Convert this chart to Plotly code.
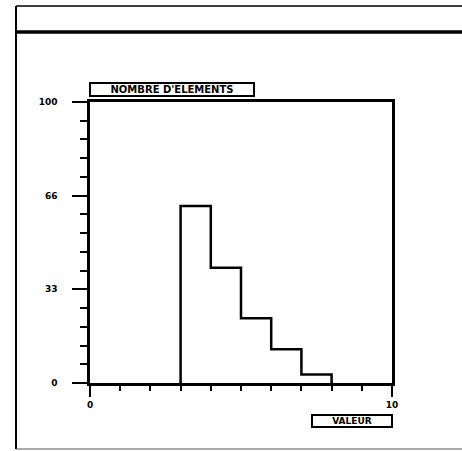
import plotly.graph_objects as go

# Data
bin_edges = [3, 4, 5, 6, 7, 8]
counts = [63, 41, 23, 12, 3]
y_tickvals = [0, 100 / 3, 200 / 3, 100]
y_ticktext = ["0", "33", "66", "100"]
x_tickvals = [0, 10]
x_ticktext = ["0", "10"]
y_title = "NOMBRE D'ELEMENTS"
x_title = "VALEUR"

W, H = 462, 451
L, R, T, B = 90, 70, 102, 68
pw, ph = W - L - R, H - T - B


def px(x):
    return (x - L) / pw


def py(y):
    return (H - B - y) / ph


# step outline of the histogram
step_x = [bin_edges[0]] + bin_edges
step_y = [0] + counts + [0]

fig = go.Figure()
fig.add_trace(go.Scatter(
    x=step_x, y=step_y, mode="lines", line_shape="hv",
    line=dict(color="black", width=2.5), showlegend=False, hoverinfo="skip",
))

font = dict(family="DejaVu Sans", size=9, color="black", weight="bold")
font_t = dict(family="DejaVu Sans", size=10, color="black", weight="bold")

fig.update_layout(
    width=W, height=H,
    margin=dict(l=L, r=R, t=T, b=B),
    paper_bgcolor="white", plot_bgcolor="white",
    xaxis=dict(
        range=[0, 10], showgrid=False, zeroline=False,
        showline=True, linecolor="black", linewidth=2.5, mirror=True,
        tickvals=x_tickvals, ticktext=x_ticktext,
        ticks="outside", ticklen=11, tickwidth=2, tickcolor="black",
        minor=dict(dtick=1, tick0=0, ticks="outside", ticklen=5, tickwidth=2, tickcolor="black"),
        tickfont=font,
    ),
    yaxis=dict(
        range=[0, 100], showgrid=False, zeroline=False,
        showline=True, linecolor="black", linewidth=2.5, mirror=True,
        tickvals=y_tickvals, ticktext=y_ticktext,
        ticks="outside", ticklen=15, tickwidth=2, tickcolor="black",
        minor=dict(dtick=100 / 15, tick0=0, ticks="outside", ticklen=7, tickwidth=2, tickcolor="black"),
        tickfont=font, ticklabelstandoff=13,
    ),
    shapes=[
        dict(type="line", xref="paper", yref="paper", x0=px(16), x1=px(462), y0=py(6), y1=py(6),
             line=dict(color="black", width=1.5)),
        dict(type="line", xref="paper", yref="paper", x0=px(16), x1=px(462), y0=py(32), y1=py(32),
             line=dict(color="black", width=3.5)),
        dict(type="line", xref="paper", yref="paper", x0=px(16), x1=px(16), y0=py(6), y1=py(449),
             line=dict(color="black", width=2)),
        dict(type="line", xref="paper", yref="paper", x0=px(16), x1=px(462), y0=py(449), y1=py(449),
             line=dict(color="#555555", width=1)),
    ],
    annotations=[
        dict(text=y_title, xref="paper", yref="paper", x=px(172), y=py(90),
             xanchor="center", yanchor="middle",
             showarrow=False, font=font_t, bgcolor="white", bordercolor="black",
             borderwidth=2, borderpad=1, width=160, height=9),
        dict(text=x_title, xref="paper", yref="paper", x=px(352), y=py(420.5),
             xanchor="center", yanchor="middle",
             showarrow=False, font=font, bgcolor="white", bordercolor="black",
             borderwidth=2, borderpad=1, width=76, height=8),
    ],
)

fig.write_html("out.html", config={"displayModeBar": False},
               post_script="document.body.style.margin='0';")
